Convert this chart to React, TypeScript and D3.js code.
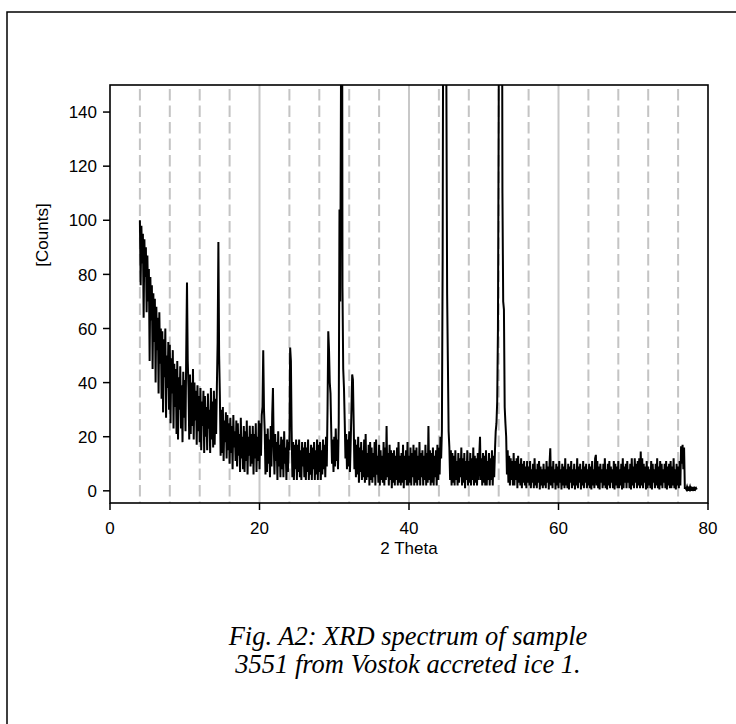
import React from "react";
import * as d3 from "d3";

const thetaStep = 0.1;

const start4 = 4.0;
const counts4 = [
  // 4
  100, 76, 98, 84, 95, 64, 93, 79, 90, 66,
  // 5
  87, 70, 82, 48, 79, 63, 76, 45, 73, 55,
  // 6
  71, 40, 68, 52, 64, 36, 66, 47, 60, 34,
  // 7
  59, 29, 56, 42, 60, 27, 50, 38, 55, 30,
  // 8
  54, 25, 49, 36, 52, 23, 47, 31, 45, 21,
  // 9
  48, 19, 42, 30, 46, 23, 39, 18, 44, 27,
  // 10
  41, 22, 52, 77, 48, 38, 19, 43, 21, 40,
  // 11
  24, 45, 19, 40, 26, 37, 17, 39, 22, 35,
  // 12
  18, 38, 15, 33, 24, 37, 14, 35, 20, 31,
  // 13
  15, 36, 23, 30, 14, 38, 19, 33, 16, 37,
  // 14
  17, 34, 21, 39, 55, 92, 50, 35, 13, 30,
  // 15
  14, 31, 11, 26, 18, 29, 12, 28, 15, 25,
  // 16
  10, 27, 14, 24, 8, 28, 16, 22, 11, 26,
  // 17
  9, 25, 13, 21, 7, 27, 12, 20, 8, 24,
  // 18
  7, 22, 11, 26, 6, 20, 13, 24, 9, 21,
  // 19
  10, 24, 6, 21, 12, 25, 7, 20, 11, 26,
];

const start20 = 20.0;
const counts20 = [
  // 20
  8, 25, 13, 28, 31, 52, 30, 22, 6, 21,
  // 21
  7, 23, 10, 19, 5, 24, 9, 28, 38, 17,
  // 22
  6, 21, 11, 18, 4, 22, 9, 17, 5, 20,
  // 23
  8, 19, 5, 22, 10, 16, 4, 19, 7, 18,
  // 24
  15, 53, 48, 22, 5, 18, 4, 17, 8, 19,
  // 25
  4, 17, 7, 19, 5, 15, 4, 18, 9, 16,
  // 26
  5, 18, 4, 16, 7, 19, 4, 14, 6, 17,
  // 27
  4, 16, 8, 18, 4, 15, 6, 19, 4, 17,
  // 28
  7, 18, 4, 15, 6, 19, 8, 17, 5, 20,
  // 29
  9, 30, 59, 52, 40, 36, 22, 10, 19, 7,
  // 30
  20, 9, 23, 11, 19, 8, 25, 104, 70, 150,
  // 31
  330, 75, 45, 38, 26, 12, 21, 8, 19, 9,
  // 32
  22, 7, 18, 30, 43, 41, 25, 8, 19, 5,
  // 33
  17, 6, 20, 3, 16, 7, 18, 4, 15, 5,
  // 34
  19, 3, 21, 4, 14, 5, 17, 2, 18, 4,
  // 35
  16, 3, 14, 5, 18, 2, 19, 6, 13, 3,
  // 36
  17, 2, 15, 4, 13, 3, 18, 2, 16, 4,
  // 37
  24, 5, 14, 2, 17, 4, 15, 1, 14, 3,
  // 38
  15, 2, 13, 4, 16, 2, 18, 3, 13, 2,
  // 39
  14, 3, 17, 1, 13, 4, 15, 2, 18, 2,
];

const start40 = 40.0;
const counts40 = [
  // 40
  13, 3, 16, 2, 14, 5, 17, 2, 15, 3,
  // 41
  16, 2, 13, 4, 18, 2, 14, 5, 15, 2,
  // 42
  13, 4, 17, 2, 14, 3, 24, 4, 15, 2,
  // 43
  14, 3, 16, 2, 13, 5, 15, 2, 17, 4,
  // 44
  16, 6, 20, 12, 22, 85, 210, 420, 420, 260,
  // 45
  150, 73, 48, 22, 16, 4, 15, 2, 14, 3,
  // 46
  13, 2, 15, 4, 11, 2, 14, 3, 12, 5,
  // 47
  16, 2, 12, 3, 14, 1, 11, 4, 15, 2,
  // 48
  11, 3, 14, 2, 12, 4, 16, 2, 13, 3,
  // 49
  12, 2, 14, 4, 13, 20, 4, 12, 2, 14,
  // 50
  3, 13, 2, 15, 2, 11, 4, 14, 2, 12,
  // 51
  4, 15, 2, 13, 5, 15, 22, 25, 33, 60,
  // 52
  140, 300, 420, 400, 260, 110, 70, 67, 31, 25,
  // 53
  20, 6, 15, 3, 13, 2, 12, 4, 11, 2,
  // 54
  14, 2, 11, 4, 12, 1, 13, 3, 10, 2,
  // 55
  12, 1, 10, 3, 11, 2, 9, 1, 11, 3,
  // 56
  9, 2, 11, 1, 8, 3, 10, 1, 12, 2,
  // 57
  8, 1, 10, 3, 11, 0.5, 9, 2, 8, 1,
  // 58
  10, 2, 8, 1, 11, 3, 9, 0.5, 10, 15.7,
  // 59
  2, 9, 1, 11, 3, 8, 0.5, 10, 2, 9,
];

const start60 = 60.0;
const counts60 = [
  // 60
  1, 11, 3, 8, 0.5, 10, 2, 9, 1, 12,
  // 61
  2, 8, 1, 10, 0.5, 9, 3, 11, 1, 8,
  // 62
  2, 10, 0.5, 8, 2, 12, 1, 9, 3, 10,
  // 63
  0.5, 8, 2, 11, 1, 9, 3, 10, 1, 8,
  // 64
  2, 10, 1, 9, 0.5, 11, 2, 8, 1, 12,
  // 65
  13.3, 2, 11, 1, 9, 0.5, 10, 3, 8, 1,
  // 66
  10, 2, 12, 1, 8, 0.5, 10, 2, 11, 1,
  // 67
  9, 3, 8, 1, 11, 0.5, 10, 2, 9, 1,
  // 68
  11, 1, 8, 2, 10, 0.5, 12, 1, 9, 3,
  // 69
  10, 1, 11, 3, 8, 1, 10, 0.5, 12, 2,
  // 70
  9, 1, 12, 3, 10, 1, 11, 2, 12, 1,
  // 71
  14.5, 2, 12, 1, 10, 3, 9, 0.5, 11, 1,
  // 72
  9, 2, 8, 1, 11, 0.5, 10, 3, 8, 1,
  // 73
  10, 2, 12, 1, 9, 0.5, 11, 2, 10, 1,
  // 74
  8, 3, 10, 1, 11, 0.5, 9, 2, 10, 1,
  // 75
  11, 1, 9, 2, 12, 1, 8, 0.5, 10, 2,
  // 76
  9, 1, 11, 2, 16.5, 10, 17, 8, 16, 1,
  // 77
  1, 0.5, 1.5, 0.5, 1, 0.5, 1.5, 0.5, 1, 0.5,
  // 78
  1, 0.5, 1, 0.5, 1, 0.5,
];

const xTicks = [0, 20, 40, 60, 80];
const yTicks = [0, 20, 40, 60, 80, 100, 120, 140];
const majorGrid = [20, 40, 60];
const minorGrid = [4, 8, 12, 16, 24, 28, 32, 36, 44, 48, 52, 56, 64, 68, 72, 76];
const xDomain = [0, 80];
const yDomain = [-4.5, 150];
const xTitle = "2 Theta";
const yTitle = "[Counts]";
const captionLines = [
  "Fig. A2: XRD spectrum of sample",
  "3551 from Vostok accreted ice 1.",
];

const segments: [number, number[]][] = [
  [start4, counts4],
  [start20, counts20],
  [start40, counts40],
  [start60, counts60],
];

export default function App() {
  const W = 736;
  const H = 724;
  const L = 110, R = 708, T = 85, B = 503;
  const x = d3.scaleLinear().domain(xDomain).range([L, R]);
  const y = d3.scaleLinear().domain(yDomain).range([B, T]);

  const pts: [number, number][] = [];
  segments.forEach(([s, arr]) => {
    arr.forEach((v, i) => pts.push([s + i * thetaStep, v]));
  });
  const line = d3
    .line<[number, number]>()
    .x((d) => x(d[0]))
    .y((d) => y(d[1]));

  const sans = "'Liberation Sans', Arial, sans-serif";
  const serif = "'Liberation Serif', 'Times New Roman', serif";

  return (
    <svg
      width={W}
      height={H}
      style={{ position: "fixed", left: 0, top: 0, background: "#fff" }}
    >
      <rect x={0} y={0} width={W} height={H} fill="#fff" />
      <rect x={7} y={12} width={760} height={760} fill="none" stroke="#000" strokeWidth={1.5} />
      <defs>
        <clipPath id="plotclip">
          <rect x={L} y={T} width={R - L} height={B - T} />
        </clipPath>
      </defs>
      {majorGrid.map((g) => (
        <line key={"M" + g} x1={x(g)} x2={x(g)} y1={T} y2={B} stroke="#c8c8c8" strokeWidth={2} />
      ))}
      {minorGrid.map((g) => (
        <line
          key={"m" + g}
          x1={x(g)}
          x2={x(g)}
          y1={T + 4}
          y2={B}
          stroke="#c4c4c4"
          strokeWidth={2}
          strokeDasharray="11.5,5"
        />
      ))}
      <path
        d={line(pts) || ""}
        fill="none"
        stroke="#000"
        strokeWidth={2}
        strokeLinejoin="miter"
        clipPath="url(#plotclip)"
      />
      <rect x={L} y={T} width={R - L} height={B - T} fill="none" stroke="#000" strokeWidth={1.6} />
      {yTicks.map((t) => (
        <g key={"y" + t}>
          <line x1={L - 7} x2={L} y1={y(t)} y2={y(t)} stroke="#000" strokeWidth={1.5} />
          <text
            x={L - 13}
            y={y(t)}
            dy="0.36em"
            textAnchor="end"
            fontFamily={sans}
            fontSize={17}
            fill="#000"
          >
            {t}
          </text>
        </g>
      ))}
      {xTicks.map((t) => (
        <g key={"x" + t}>
          <line x1={x(t)} x2={x(t)} y1={B} y2={B + 7} stroke="#000" strokeWidth={1.5} />
          <text x={x(t)} y={B + 31} textAnchor="middle" fontFamily={sans} fontSize={17} fill="#000">
            {t}
          </text>
        </g>
      ))}
      <text x={(L + R) / 2} y={554} textAnchor="middle" fontFamily={sans} fontSize={17} fill="#000">
        {xTitle}
      </text>
      <text
        transform={`translate(47.5,235) rotate(-90)`}
        textAnchor="middle"
        fontFamily={sans}
        fontSize={17}
        fill="#000"
      >
        {yTitle}
      </text>
      {captionLines.map((c, i) => (
        <text
          key={c}
          x={408}
          y={645 + i * 28}
          textAnchor="middle"
          fontFamily={serif}
          fontStyle="italic"
          fontSize={26.5}
          fill="#000"
        >
          {c}
        </text>
      ))}
    </svg>
  );
}
